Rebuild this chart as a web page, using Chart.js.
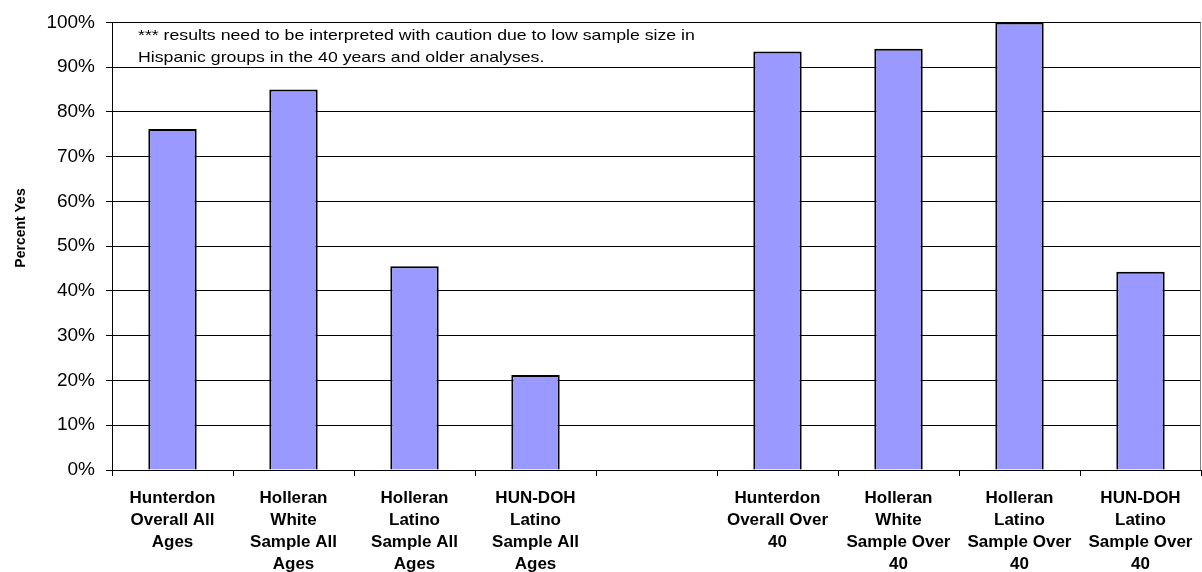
<!DOCTYPE html>
<html>
<head>
<meta charset="utf-8">
<script src="https://cdn.jsdelivr.net/npm/chart.js@4/dist/chart.umd.min.js"></script>
<style>
  html, body { margin: 0; padding: 0; background: #fff; }
  #wrap { width: 1202px; height: 572px; }
</style>
</head>
<body>
<div id="wrap"><canvas id="c" width="1202" height="572"></canvas></div>
<script>
// Category labels (multi-line), one empty slot separating the two groups
const categories = [
  ["Hunterdon", "Overall All", "Ages"],
  ["Holleran", "White", "Sample All", "Ages"],
  ["Holleran", "Latino", "Sample All", "Ages"],
  ["HUN-DOH", "Latino", "Sample All", "Ages"],
  "",
  ["Hunterdon", "Overall Over", "40"],
  ["Holleran", "White", "Sample Over", "40"],
  ["Holleran", "Latino", "Sample Over", "40"],
  ["HUN-DOH", "Latino", "Sample Over", "40"]
];

// Percent answering yes
const percentYes = [76.2, 85.0, 45.5, 21.2, null, 93.5, 94.1, 100, 44.3];

// Y-axis tick values
const yTicks = [0, 10, 20, 30, 40, 50, 60, 70, 80, 90, 100];

const yTitle = "Percent Yes";
const noteLines = [
  "*** results need to be interpreted with caution due to low sample size in",
  "Hispanic groups in the 40 years and older analyses."
];

const FONT = "Arial, 'Liberation Sans', Helvetica, sans-serif";

const extras = {
  id: 'extras',
  afterDraw(chart) {
    const ctx = chart.ctx;
    const a = chart.chartArea;
    ctx.save();
    // right border of the plot area
    ctx.strokeStyle = '#808080';
    ctx.lineWidth = 1;
    ctx.beginPath();
    ctx.moveTo(Math.round(a.right) - 0.5, a.top);
    ctx.lineTo(Math.round(a.right) - 0.5, a.bottom);
    ctx.stroke();

    // note text (set slightly wide)
    ctx.save();
    ctx.fillStyle = '#000';
    ctx.font = '15px ' + FONT;
    ctx.textAlign = 'left';
    ctx.textBaseline = 'alphabetic';
    ctx.translate(a.left + 26, a.top + 18);
    ctx.scale(1.18, 1);
    noteLines.forEach((t, i) => ctx.fillText(t, 0, i * 21.5));
    ctx.restore();

    // y-axis title
    ctx.fillStyle = '#000';
    ctx.translate(25, 228);
    ctx.rotate(-Math.PI / 2);
    ctx.font = 'bold 14px ' + FONT;
    ctx.textAlign = 'center';
    ctx.fillText(yTitle, 0, 0);
    ctx.restore();
  }
};

new Chart(document.getElementById('c'), {
  type: 'bar',
  data: {
    labels: categories,
    datasets: [{
      data: percentYes,
      backgroundColor: '#9999FF',
      borderColor: '#000000',
      borderWidth: 2,
      categoryPercentage: 1.0,
      barPercentage: 0.4
    }]
  },
  options: {
    responsive: false,
    animation: false,
    devicePixelRatio: 1,
    layout: { padding: { top: 21, right: 1, left: 0, bottom: 0 } },
    plugins: { legend: { display: false }, tooltip: { enabled: false } },
    scales: {
      x: {
        grid: {
          display: true,
          drawOnChartArea: false,
          drawTicks: true,
          tickLength: 6,
          color: '#000',
          offset: true
        },
        border: { color: '#000', width: 1 },
        ticks: {
          autoSkip: false,
          maxRotation: 0,
          minRotation: 0,
          padding: 11,
          color: '#000',
          font: { family: FONT, size: 17, weight: 'bold', lineHeight: 1.3 }
        },
        afterFit(scale) {
          scale.height = 102;
          scale.paddingLeft = 0;
          scale.paddingRight = 0;
        }
      },
      y: {
        min: 0,
        max: 100,
        afterBuildTicks(scale) { scale.ticks = yTicks.map(v => ({ value: v })); },
        grid: {
          color: '#000',
          lineWidth: 1,
          tickLength: 6,
          drawTicks: true
        },
        border: { color: '#000', width: 1 },
        ticks: {
          padding: 11,
          color: '#000',
          font: { family: FONT, size: 19 },
          callback: v => v + '%'
        },
        afterFit(scale) { scale.width = 112; }
      }
    }
  },
  plugins: [extras]
});
</script>
</body>
</html>
